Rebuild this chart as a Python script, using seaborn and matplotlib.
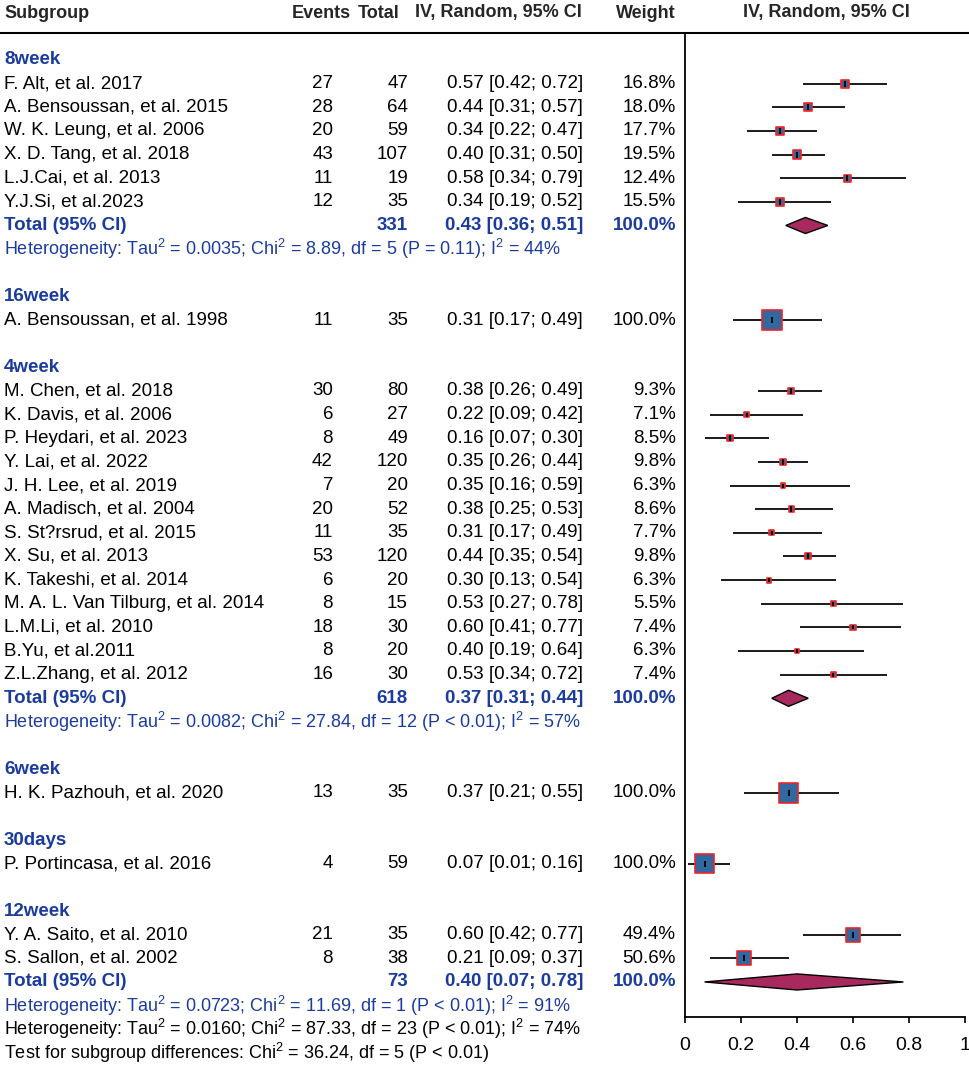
import matplotlib
matplotlib.use("Agg")
import matplotlib.pyplot as plt
from matplotlib.lines import Line2D
from matplotlib.patches import Polygon
from matplotlib.transforms import blended_transform_factory
import numpy as np
import seaborn as sns

# --- data ---
GROUPS = ["8week", "16week", "4week", "6week", "30days", "12week"]

STUDY = [
    "F. Alt, et al. 2017", "A. Bensoussan, et al. 2015", "W. K. Leung, et al. 2006",
    "X. D. Tang, et al. 2018", "L.J.Cai, et al. 2013", "Y.J.Si, et al.2023",
    "A. Bensoussan, et al. 1998",
    "M. Chen, et al. 2018", "K. Davis, et al. 2006", "P. Heydari, et al. 2023",
    "Y. Lai, et al. 2022", "J. H. Lee, et al. 2019", "A. Madisch, et al. 2004",
    "S. St?rsrud, et al. 2015", "X. Su, et al. 2013", "K. Takeshi, et al. 2014",
    "M. A. L. Van Tilburg, et al. 2014", "L.M.Li, et al. 2010", "B.Yu, et al.2011",
    "Z.L.Zhang, et al. 2012",
    "H. K. Pazhouh, et al. 2020",
    "P. Portincasa, et al. 2016",
    "Y. A. Saito, et al. 2010", "S. Sallon, et al. 2002",
]
STUDY_GROUP = (["8week"] * 6 + ["16week"] + ["4week"] * 13
               + ["6week"] + ["30days"] + ["12week"] * 2)
EVENTS = [27, 28, 20, 43, 11, 12, 11, 30, 6, 8, 42, 7, 20, 11, 53, 6, 8, 18, 8, 16, 13, 4, 21, 8]
TOTAL = [47, 64, 59, 107, 19, 35, 35, 80, 27, 49, 120, 20, 52, 35, 120, 20, 15, 30, 20, 30, 35, 59, 35, 38]
EST = [0.57, 0.44, 0.34, 0.40, 0.58, 0.34, 0.31, 0.38, 0.22, 0.16, 0.35, 0.35, 0.38,
       0.31, 0.44, 0.30, 0.53, 0.60, 0.40, 0.53, 0.37, 0.07, 0.60, 0.21]
LOWER = [0.42, 0.31, 0.22, 0.31, 0.34, 0.19, 0.17, 0.26, 0.09, 0.07, 0.26, 0.16, 0.25,
         0.17, 0.35, 0.13, 0.27, 0.41, 0.19, 0.34, 0.21, 0.01, 0.42, 0.09]
UPPER = [0.72, 0.57, 0.47, 0.50, 0.79, 0.52, 0.49, 0.49, 0.42, 0.30, 0.44, 0.59, 0.53,
         0.49, 0.54, 0.54, 0.78, 0.77, 0.64, 0.72, 0.55, 0.16, 0.77, 0.37]
WEIGHT = [16.8, 18.0, 17.7, 19.5, 12.4, 15.5, 100.0, 9.3, 7.1, 8.5, 9.8, 6.3, 8.6,
          7.7, 9.8, 6.3, 5.5, 7.4, 6.3, 7.4, 100.0, 100.0, 49.4, 50.6]

POOLED_GROUPS = ["8week", "4week", "12week"]
POOLED_N = [331, 618, 73]
POOLED_EST = [0.43, 0.37, 0.40]
POOLED_LO = [0.36, 0.31, 0.07]
POOLED_HI = [0.51, 0.44, 0.78]
POOLED_HET = [
    "Heterogeneity: Tau$^2$ = 0.0035; Chi$^2$ = 8.89, df = 5 (P = 0.11); I$^2$ = 44%",
    "Heterogeneity: Tau$^2$ = 0.0082; Chi$^2$ = 27.84, df = 12 (P < 0.01); I$^2$ = 57%",
    "Heterogeneity: Tau$^2$ = 0.0723; Chi$^2$ = 11.69, df = 1 (P < 0.01); I$^2$ = 91%",
]
OVERALL_HET = "Heterogeneity: Tau$^2$ = 0.0160; Chi$^2$ = 87.33, df = 23 (P < 0.01); I$^2$ = 74%"
SUBGROUP_TEST = "Test for subgroup differences: Chi$^2$ = 36.24, df = 5 (P < 0.01)"

XTICKS = [0, 0.2, 0.4, 0.6, 0.8, 1]
XTICK_LABELS = ["0", "0.2", "0.4", "0.6", "0.8", "1"]

# --- style ---
W, H = 969, 1066
BLUE = "#1b3c9e"
SQUARE = "#3168a0"
DIAMOND = "#a8295d"
FS = 13.5
FS_NOTE = 13.0

sns.set_theme(style="white")
plt.rcParams["font.family"] = ["Liberation Sans", "DejaVu Sans"]
plt.rcParams["mathtext.fontset"] = "custom"
plt.rcParams["mathtext.rm"] = "Liberation Sans"
plt.rcParams["mathtext.it"] = "Liberation Sans:italic"
plt.rcParams["mathtext.bf"] = "Liberation Sans:bold"
plt.rcParams["mathtext.default"] = "regular"

fig = plt.figure(figsize=(W / 100, H / 100), dpi=100)
ROW0, ROWH = 60, 23.64
TOP_PX, AX_PX = 33, 1017
ax = fig.add_axes([685 / W, 1 - AX_PX / H, 280 / W, (AX_PX - TOP_PX) / H])
ax.set_xlim(0, 1)
ax.set_ylim((AX_PX - ROW0) / ROWH, (TOP_PX - ROW0) / ROWH)

tr = blended_transform_factory(fig.transFigure, ax.transData)


def put(xpx, row, s, ha="left", color="black", bold=False, size=FS):
    ax.text(xpx / W, row, s, transform=tr, ha=ha, va="center", fontsize=size,
            color=color, fontweight="bold" if bold else "normal", clip_on=False)


# lay out rows
study_rows = []
pooled_rows = []
row = 0
for gi, g in enumerate(GROUPS):
    put(4, row, g, color=BLUE, bold=True)
    row += 1
    idx = [i for i, sg in enumerate(STUDY_GROUP) if sg == g]
    for i in idx:
        put(4, row, STUDY[i])
        put(333, row, str(EVENTS[i]), ha="right")
        put(408, row, str(TOTAL[i]), ha="right")
        put(583, row, f"{EST[i]:.2f} [{LOWER[i]:.2f}; {UPPER[i]:.2f}]", ha="right")
        put(676, row, f"{WEIGHT[i]:.1f}%", ha="right")
        study_rows.append(row)
        row += 1
    if g in POOLED_GROUPS:
        p = POOLED_GROUPS.index(g)
        put(4, row, "Total (95% CI)", color=BLUE, bold=True)
        put(408, row, str(POOLED_N[p]), ha="right", color=BLUE, bold=True)
        put(583, row, f"{POOLED_EST[p]:.2f} [{POOLED_LO[p]:.2f}; {POOLED_HI[p]:.2f}]",
            ha="right", color=BLUE, bold=True)
        put(676, row, "100.0%", ha="right", color=BLUE, bold=True)
        pooled_rows.append(row)
        row += 1
        put(4, row, POOLED_HET[p], color=BLUE, size=FS_NOTE)
        row += 1
    if gi < len(GROUPS) - 1:
        row += 1

put(4, row, OVERALL_HET, size=FS_NOTE)
put(4, row + 1, SUBGROUP_TEST, size=FS_NOTE)

# header
hy = 1 - 13 / H
for xpx, s, ha in [(4, "Subgroup", "left"), (351, "Events", "right"),
                   (400, "Total", "right"), (498, "IV, Random, 95% CI", "center"),
                   (676, "Weight", "right"), (826, "IV, Random, 95% CI", "center")]:
    fig.text(xpx / W, hy, s, ha=ha, va="center", fontsize=13, fontweight="bold")
fig.add_artist(Line2D([0, 1], [1 - TOP_PX / H] * 2, transform=fig.transFigure,
                      color="black", lw=1.5))

# confidence intervals and squares
ax.hlines(study_rows, LOWER, UPPER, color="#1a1a1a", lw=1.4, zorder=2)
w = np.array(WEIGHT)
side_pt = 14.0 * np.sqrt(w / 100)
sns.scatterplot(x=EST, y=study_rows, s=side_pt ** 2, marker="s", color=SQUARE,
                edgecolor="#f02424", linewidth=1.2, legend=False, ax=ax, zorder=3)
for x, y, sp in zip(EST, study_rows, side_pt):
    ax.plot([x], [y], marker="|", markersize=min(sp * 0.9, 5), color="black",
            mew=1.3, zorder=4)

# pooled diamonds
for r, e, lo, hi in zip(pooled_rows, POOLED_EST, POOLED_LO, POOLED_HI):
    ax.add_patch(Polygon([[lo, r], [e, r - 0.34], [hi, r], [e, r + 0.34]],
                         closed=True, facecolor=DIAMOND, edgecolor="black",
                         lw=1.0, zorder=3))

# axes styling
for side in ["top", "right"]:
    ax.spines[side].set_visible(False)
for side in ["left", "bottom"]:
    ax.spines[side].set_color("black")
    ax.spines[side].set_linewidth(1.3)
ax.set_yticks([])
ax.set_xticks(XTICKS)
ax.set_xticklabels(XTICK_LABELS, fontsize=14)
ax.tick_params(axis="x", bottom=True, direction="out", length=4.5, width=1.2,
               pad=10, colors="black")
ax.set_xlabel("")
ax.set_ylabel("")
ax.grid(False)

fig.savefig("out.png", dpi=100)
plt.close(fig)
